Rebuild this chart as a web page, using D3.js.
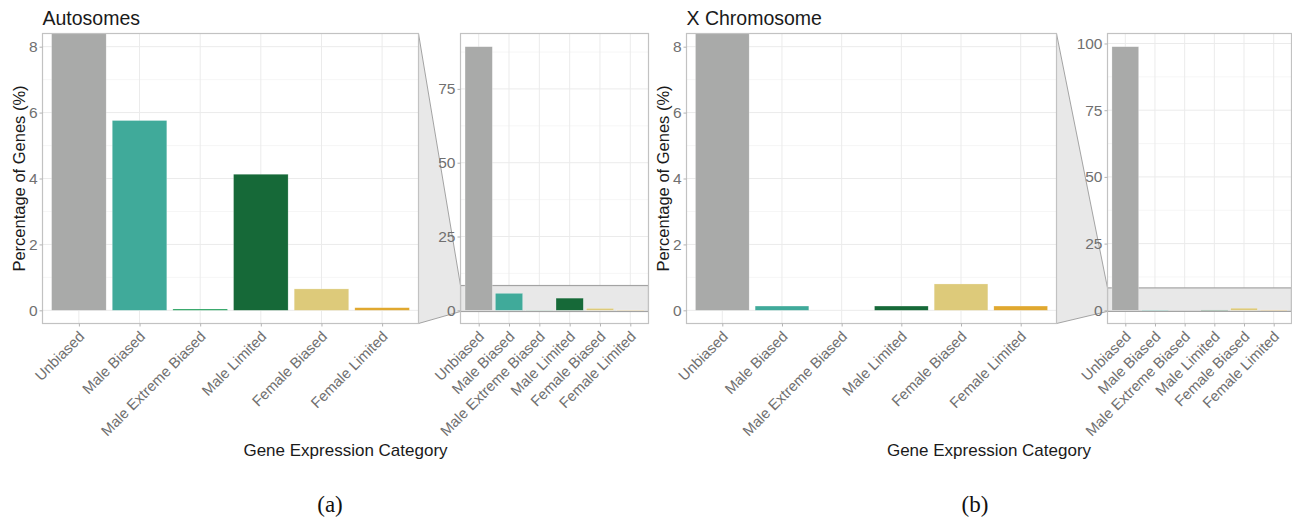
<!DOCTYPE html>
<html>
<head>
<meta charset="utf-8">
<script src="https://cdn.jsdelivr.net/npm/d3@7"></script>
<style>
  body { margin: 0; background: #fff; }
  svg { display: block; font-family: "Liberation Sans", Arial, sans-serif; }
</style>
</head>
<body>
<svg id="chart" width="1292" height="518"></svg>
<script>
// ---- data ----
const categories = ["Unbiased", "Male Biased", "Male Extreme Biased", "Male Limited", "Female Biased", "Female Limited"];
const autosomeValues = [89.3, 5.76, 0.04, 4.13, 0.65, 0.08];
const xChromValues = [98.8, 0.13, 0, 0.13, 0.8, 0.13];
const barColors = ["#a9aaa9", "#40aa9a", "#1f9e5a", "#166938", "#ddca7a", "#e0a82f"];
const zoomRange = [0, 8];
const mainTicks = [0, 2, 4, 6, 8];
const insetTicksA = [0, 25, 50, 75];
const insetTicksX = [0, 25, 50, 75, 100];
const panelTitles = ["Autosomes", "X Chromosome"];
const subLabels = ["(a)", "(b)"];
const xTitle = "Gene Expression Category";
const yTitle = "Percentage of Genes (%)";

const svg = d3.select("#chart");
const pTop = 33.5, pBottom = 323.5;

const panels = [
  { values: autosomeValues, insetTicks: insetTicksA, title: panelTitles[0], sub: subLabels[0],
    main: [42.5, 418.5], inset: [460.5, 648.5], subX: 330 },
  { values: xChromValues, insetTicks: insetTicksX, title: panelTitles[1], sub: subLabels[1],
    main: [686.5, 1056.5], inset: [1107.5, 1291.5], subX: 975 }
];

const grid = "#ebebeb", minorGrid = "#f4f4f4", border = "#c2c2c2", tickCol = "#b3b3b3", labCol = "#707070";

panels.forEach((p, pi) => {
  const g = svg.append("g");
  const data = categories.map((c, i) => ({ cat: c, v: p.values[i], color: barColors[i], i: i + 1 }));

  const yMain = d3.scaleLinear()
    .domain([zoomRange[0] - 0.05 * (zoomRange[1] - zoomRange[0]), zoomRange[1] + 0.05 * (zoomRange[1] - zoomRange[0])])
    .range([pBottom, pTop]);
  const maxV = d3.max(p.values);
  const yInset = d3.scaleLinear().domain([-0.05 * maxV, 1.05 * maxV]).range([pBottom, pTop]);
  const xMain = d3.scaleLinear().domain([0.4, 6.6]).range(p.main);
  const xInset = d3.scaleLinear().domain([0.4, 6.6]).range(p.inset);

  // trapezoid connector
  const bandTop = yInset(yMain.domain()[1]), bandBot = yInset(yMain.domain()[0]);
  g.append("path")
    .attr("d", `M${p.main[1]},${pTop}L${p.inset[0]},${bandTop}L${p.inset[0]},${bandBot}L${p.main[1]},${pBottom}Z`)
    .attr("fill", "#e8e8e8").attr("stroke", "#8f8f8f").attr("stroke-width", 0.8);

  function drawPanel(xs, ys, ticksY, minorY, isInset) {
    const [x0, x1] = xs.range();
    const pg = g.append("g");
    pg.append("rect").attr("x", x0).attr("y", pTop).attr("width", x1 - x0).attr("height", pBottom - pTop).attr("fill", "#fff");
    const clipId = "clip" + pi + (isInset ? "i" : "m");
    pg.append("clipPath").attr("id", clipId).append("rect")
      .attr("x", x0).attr("y", pTop).attr("width", x1 - x0).attr("height", pBottom - pTop);
    const inner = pg.append("g").attr("clip-path", `url(#${clipId})`);
    inner.selectAll(".minor").data(minorY).join("line")
      .attr("x1", x0).attr("x2", x1).attr("y1", d => ys(d)).attr("y2", d => ys(d))
      .attr("stroke", minorGrid).attr("stroke-width", 0.8);
    inner.selectAll(".major").data(ticksY).join("line")
      .attr("x1", x0).attr("x2", x1).attr("y1", d => ys(d)).attr("y2", d => ys(d))
      .attr("stroke", grid).attr("stroke-width", 1);
    inner.selectAll(".vgrid").data(data).join("line")
      .attr("x1", d => xs(d.i)).attr("x2", d => xs(d.i)).attr("y1", pTop).attr("y2", pBottom)
      .attr("stroke", grid).attr("stroke-width", 1);
    if (isInset) {
      inner.append("rect")
        .attr("x", x0).attr("width", x1 - x0)
        .attr("y", ys(yMain.domain()[1])).attr("height", ys(yMain.domain()[0]) - ys(yMain.domain()[1]))
        .attr("fill", "#e8e8e8").attr("stroke", "#a3a3a3").attr("stroke-width", 1.2);
    }
    const bw = xs(1.45) - xs(0.55);
    inner.selectAll(".bar").data(data).join("rect")
      .attr("x", d => xs(d.i) - bw / 2).attr("width", bw)
      .attr("y", d => ys(d.v)).attr("height", d => Math.max(0, ys(0) - ys(d.v)))
      .attr("fill", d => d.color).attr("stroke", "#ffffff").attr("stroke-opacity", 0.5).attr("stroke-width", 0.5);
    pg.append("rect").attr("x", x0).attr("y", pTop).attr("width", x1 - x0).attr("height", pBottom - pTop)
      .attr("fill", "none").attr("stroke", border).attr("stroke-width", 1.2);

    // y axis
    const yAx = d3.axisLeft(ys).tickValues(ticksY).tickSize(3).tickPadding(2).tickFormat(d3.format("d"));
    const ya = pg.append("g").attr("transform", `translate(${x0},0)`).call(yAx);
    ya.select(".domain").remove();
    ya.selectAll("line").attr("stroke", tickCol);
    ya.selectAll("text").attr("fill", labCol).attr("font-size", "15.5px")
      .attr("font-family", "'Liberation Sans', Arial, sans-serif");

    // x axis
    const xAx = d3.axisBottom(xs).tickValues(data.map(d => d.i)).tickSize(3).tickFormat(d => categories[d - 1]);
    const xa = pg.append("g").attr("transform", `translate(0,${pBottom})`).call(xAx);
    xa.select(".domain").remove();
    xa.selectAll("line").attr("stroke", tickCol);
    xa.selectAll("text")
      .attr("fill", labCol).attr("font-size", "14.8px")
      .attr("font-family", "'Liberation Sans', Arial, sans-serif")
      .attr("text-anchor", "end")
      .attr("dy", "0")
      .attr("y", 0)
      .attr("transform", "translate(6,14) rotate(-45)");
  }

  drawPanel(xMain, yMain, mainTicks, [1, 3, 5, 7], false);
  const it = p.insetTicks;
  const minorInset = it.slice(0, -1).map((t, k) => (t + it[k + 1]) / 2).concat([it[it.length - 1] + 12.5]);
  drawPanel(xInset, yInset, it, minorInset, true);

  // titles
  g.append("text").attr("x", p.main[0]).attr("y", 25).text(p.title)
    .attr("font-size", "19.5px").attr("fill", "#1a1a1a");
  g.append("text")
    .attr("transform", `translate(${p.main[0] - 18},${(pTop + pBottom) / 2}) rotate(-90)`)
    .attr("text-anchor", "middle").attr("font-size", "16.5px").attr("fill", "#1a1a1a").text(yTitle);
  g.append("text").attr("x", (p.main[0] + p.inset[1]) / 2).attr("y", 456)
    .attr("text-anchor", "middle").attr("font-size", "17px").attr("fill", "#1a1a1a").text(xTitle);
  g.append("text").attr("x", p.subX).attr("y", 512)
    .attr("text-anchor", "middle").attr("font-size", "23px")
    .attr("font-family", "'Liberation Serif', 'Times New Roman', serif").attr("fill", "#111").text(p.sub);
});
</script>
</body>
</html>
